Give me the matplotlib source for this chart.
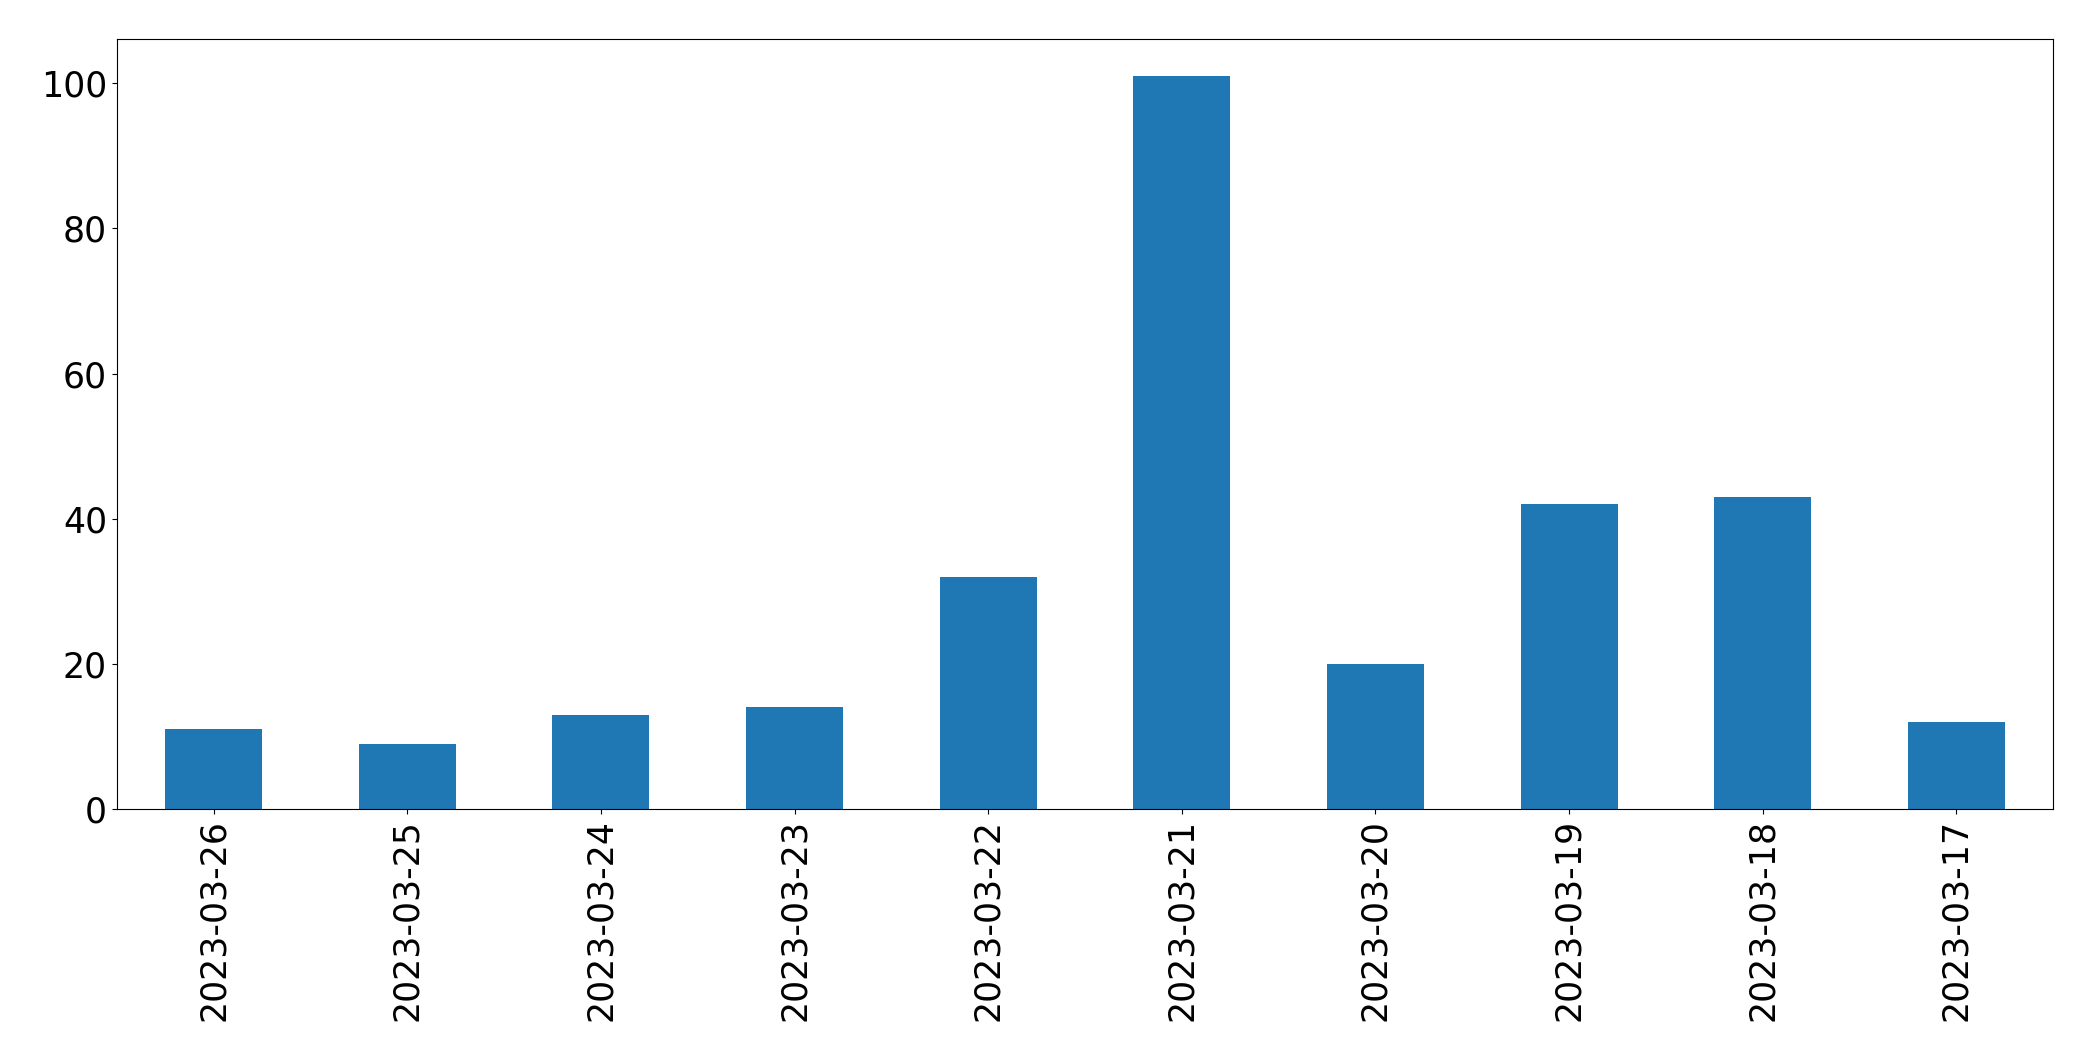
import matplotlib
matplotlib.use("Agg")
import matplotlib.pyplot as plt
import numpy as np

# Daily counts, newest first (as in the source table).
DATES = [
    "2023-03-26", "2023-03-25", "2023-03-24", "2023-03-23", "2023-03-22",
    "2023-03-21", "2023-03-20", "2023-03-19", "2023-03-18", "2023-03-17",
]
COUNTS = [11, 9, 13, 14, 32, 101, 20, 42, 43, 12]


def plot_counts() -> None:
    fig, ax = plt.subplots(figsize=(20.93, 10.61), dpi=100)
    fig.subplots_adjust(left=116.7 / 2093, right=2053.3 / 2093,
                        top=1 - 39.3 / 1061, bottom=1 - 809 / 1061)

    x = np.arange(len(DATES))
    ax.bar(x, COUNTS, width=0.5, color="#1f77b4")
    ax.set_xlim(-0.5, len(DATES) - 0.5)
    ax.set_ylim(0, max(COUNTS) * 1.05)

    ax.set_xticks(x)
    ax.set_xticklabels(DATES, rotation=90)
    ax.tick_params(axis="both", labelsize=25)

    plt.savefig("out.png")
    plt.close()


if __name__ == "__main__":
    plot_counts()
